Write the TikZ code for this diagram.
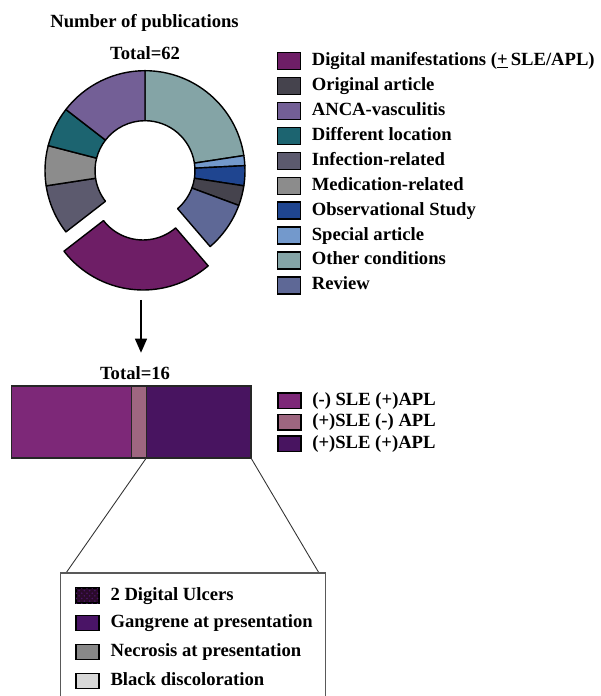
\documentclass[tikz,border=0pt]{standalone}
\usepackage{fontspec}
\setmainfont{Liberation Serif}
\usetikzlibrary{arrows.meta,positioning,patterns}

\definecolor{digital}{HTML}{6E1E66}
\definecolor{original}{HTML}{45434D}
\definecolor{anca}{HTML}{735F96}
\definecolor{location}{HTML}{1C6470}
\definecolor{infection}{HTML}{5C5A6E}
\definecolor{medication}{HTML}{8C8C8C}
\definecolor{observational}{HTML}{1F4590}
\definecolor{special}{HTML}{7399CC}
\definecolor{otherc}{HTML}{84A4A6}
\definecolor{review}{HTML}{5E6896}
\definecolor{negpos}{HTML}{7D2878}
\definecolor{posneg}{HTML}{9E6680}
\definecolor{pospos}{HTML}{481460}
\definecolor{ulcer}{HTML}{2A0A2A}
\definecolor{gangrene}{HTML}{4A1466}
\definecolor{necrosis}{HTML}{888888}
\definecolor{discolor}{HTML}{D8D8D8}

\tikzstyle{swatch}=[
	rectangle,
	draw=black,
	line width=0.8pt,
	minimum width=0.46cm,
	minimum height=0.34cm,
	inner sep=0pt,
	outer sep=0pt
]
\tikzstyle{entry}=[
	font=\fontsize{10.6}{12}\selectfont\bfseries,
	inner sep=0pt,
	text height=0.7em,
	text depth=0.2em,
	node distance=0.22cm
]
\tikzstyle{heading}=[
	font=\fontsize{10.6}{12}\selectfont\bfseries,
	inner sep=0pt
]
\tikzstyle{sector}=[
	draw=black,
	line width=0.8pt,
	line join=round
]
\tikzstyle{barpart}=[
	rectangle,
	draw=black!85,
	line width=0.8pt,
	minimum height=1.44cm,
	inner sep=0pt,
	outer sep=0pt
]
\tikzstyle{zoomline}=[
	draw=black!80,
	line width=0.5pt
]
\tikzstyle{pointer}=[
	-{Triangle[width=0.24cm,length=0.28cm]},
	line width=0.7pt
]

\begin{document}
\begin{tikzpicture}
\useasboundingbox (0,0) rectangle (12,13.92);

% titles
\node [heading] (title) at (2.89,13.466) {Number of publications};
\node [heading] (total62) at (2.90,12.86) {Total=62};

% donut
\begin{scope}[shift={(2.90,10.506)}]
\draw [sector, fill=otherc] (90:2) arc [start angle=90, end angle=8.71, radius=2] -- (8.71:1) arc [start angle=8.71, end angle=90, radius=1] -- cycle;
\draw [sector, fill=special] (8.71:2) arc [start angle=8.71, end angle=2.90, radius=2] -- (2.90:1) arc [start angle=2.90, end angle=8.71, radius=1] -- cycle;
\draw [sector, fill=observational] (2.90:2) arc [start angle=2.90, end angle=-8.71, radius=2] -- (-8.71:1) arc [start angle=-8.71, end angle=2.90, radius=1] -- cycle;
\draw [sector, fill=original] (-8.71:2) arc [start angle=-8.71, end angle=-20.32, radius=2] -- (-20.32:1) arc [start angle=-20.32, end angle=-8.71, radius=1] -- cycle;
\draw [sector, fill=review] (-20.32:2) arc [start angle=-20.32, end angle=-49.35, radius=2] -- (-49.35:1) arc [start angle=-49.35, end angle=-20.32, radius=1] -- cycle;
\begin{scope}[shift={(-95.8:0.388)}]
\draw [sector, fill=digital] (-49.35:2) arc [start angle=-49.35, end angle=-142.26, radius=2] -- (-142.26:1) arc [start angle=-142.26, end angle=-49.35, radius=1] -- cycle;
\end{scope}
\draw [sector, fill=infection] (-142.26:2) arc [start angle=-142.26, end angle=-171.29, radius=2] -- (-171.29:1) arc [start angle=-171.29, end angle=-142.26, radius=1] -- cycle;
\draw [sector, fill=medication] (-171.29:2) arc [start angle=-171.29, end angle=-194.52, radius=2] -- (-194.52:1) arc [start angle=-194.52, end angle=-171.29, radius=1] -- cycle;
\draw [sector, fill=location] (-194.52:2) arc [start angle=-194.52, end angle=-217.74, radius=2] -- (-217.74:1) arc [start angle=-217.74, end angle=-194.52, radius=1] -- cycle;
\draw [sector, fill=anca] (-217.74:2) arc [start angle=-217.74, end angle=-270, radius=2] -- (-270:1) arc [start angle=-270, end angle=-217.74, radius=1] -- cycle;
\end{scope}

% legend of the donut
\node [swatch, fill=digital] (sw-digital) at (5.78,12.70) {};
\node [entry] (lab-digital) [right=of sw-digital] {Digital manifestations (\underline{+}\,SLE/APL)};
\node [swatch, fill=original] (sw-original) [below=0.159cm of sw-digital] {};
\node [entry] (lab-original) [right=of sw-original] {Original article};
\node [swatch, fill=anca] (sw-anca) [below=0.159cm of sw-original] {};
\node [entry] (lab-anca) [right=of sw-anca] {ANCA-vasculitis};
\node [swatch, fill=location] (sw-location) [below=0.159cm of sw-anca] {};
\node [entry] (lab-location) [right=of sw-location] {Different location};
\node [swatch, fill=infection] (sw-infection) [below=0.159cm of sw-location] {};
\node [entry] (lab-infection) [right=of sw-infection] {Infection-related};
\node [swatch, fill=medication] (sw-medication) [below=0.159cm of sw-infection] {};
\node [entry] (lab-medication) [right=of sw-medication] {Medication-related};
\node [swatch, fill=observational] (sw-observational) [below=0.159cm of sw-medication] {};
\node [entry] (lab-observational) [right=of sw-observational] {Observational Study};
\node [swatch, fill=special] (sw-special) [below=0.159cm of sw-observational] {};
\node [entry] (lab-special) [right=of sw-special] {Special article};
\node [swatch, fill=otherc] (sw-otherc) [below=0.159cm of sw-special] {};
\node [entry] (lab-otherc) [right=of sw-otherc] {Other conditions};
\node [swatch, fill=review] (sw-review) [below=0.159cm of sw-otherc] {};
\node [entry] (lab-review) [right=of sw-review] {Review};

% arrow down to the bar
\coordinate (arrow-top) at (2.82,7.92);
\coordinate (arrow-tip) at (2.82,6.866);
\draw [pointer] (arrow-top) -- (arrow-tip);

% stacked bar
\node [heading] (total16) at (2.70,6.466) {Total=16};
\node [barpart, fill=negpos, minimum width=2.393cm, anchor=west] (bar-negpos) at (0.234,5.48) {};
\node [barpart, fill=posneg, minimum width=0.299cm] (bar-posneg) [right=0cm of bar-negpos] {};
\node [barpart, fill=pospos, minimum width=2.094cm] (bar-pospos) [right=0cm of bar-posneg] {};

% legend of the bar
\node [swatch, fill=negpos, minimum height=0.31cm] (sw-negpos) at (5.79,5.906) {};
\node [entry] (lab-negpos) [right=of sw-negpos] {(-) SLE (+)APL};
\node [swatch, fill=posneg, minimum height=0.31cm] (sw-posneg) [below=0.12cm of sw-negpos] {};
\node [entry] (lab-posneg) [right=of sw-posneg] {(+)SLE (-) APL};
\node [swatch, fill=pospos, minimum height=0.31cm] (sw-pospos) [below=0.12cm of sw-posneg] {};
\node [entry] (lab-pospos) [right=of sw-pospos] {(+)SLE (+)APL};

% detail box
\coordinate (box-bl) at (1.214,0);
\coordinate (box-tr) at (6.514,2.46);
\coordinate (box-br) at (6.514,0);
\coordinate (box-left) at (1.32,2.46);
\coordinate (box-right) at (6.38,2.46);
\draw [zoomline] (bar-pospos.south west) -- (box-left);
\draw [zoomline] (bar-pospos.south east) -- (box-right);
\draw [draw=black!65, line width=0.6pt] (box-bl) |- (box-tr) -- (box-br);

\node [swatch, fill=ulcer, minimum height=0.30cm, postaction={pattern=crosshatch dots, pattern color=gangrene}] (sw-ulcer) at (1.754,2.006) {};
\node [entry] (lab-ulcer) [right=of sw-ulcer] {2 Digital Ulcers};
\node [swatch, fill=gangrene, minimum height=0.30cm] (sw-gangrene) [below=0.25cm of sw-ulcer] {};
\node [entry] (lab-gangrene) [right=of sw-gangrene] {Gangrene at presentation};
\node [swatch, fill=necrosis, minimum height=0.30cm] (sw-necrosis) [below=0.28cm of sw-gangrene] {};
\node [entry] (lab-necrosis) [right=of sw-necrosis] {Necrosis at presentation};
\node [swatch, fill=discolor, minimum height=0.30cm] (sw-discolor) [below=0.28cm of sw-necrosis] {};
\node [entry] (lab-discolor) [right=of sw-discolor] {Black discoloration};
\end{tikzpicture}
\end{document}
